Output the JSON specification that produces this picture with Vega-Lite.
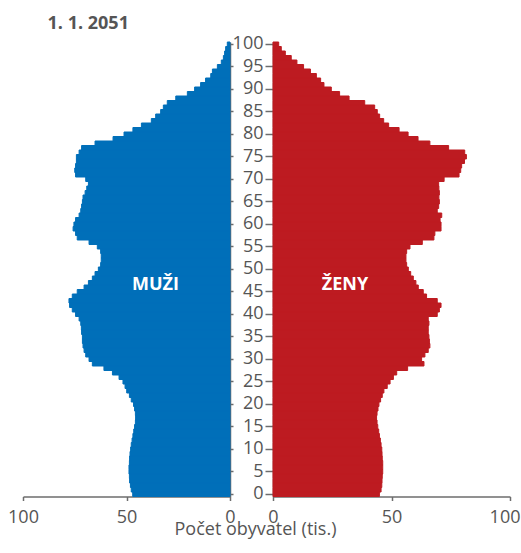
{
  "$schema": "https://vega.github.io/schema/vega-lite/v6.json",
  "padding": {"left": 7, "top": 14, "right": 1, "bottom": 5},
  "bounds": "flush",
  "spacing": 43,
  "title": {"text": "1. 1. 2051", "anchor": "start", "dx": 40, "fontSize": 18, "fontWeight": "bold", "font": "Open Sans", "color": "#555555", "offset": 2},
  "config": {
    "view": {"stroke": null},
    "font": "Open Sans",
    "axis": {"domainColor": "#6d6d6d", "tickColor": "#6d6d6d", "labelColor": "#555555", "labelFontSize": 18, "labelFont": "Open Sans", "grid": false, "domainWidth": 1.5, "tickWidth": 1.5, "titleFont": "Open Sans", "labelFlush": false, "labelOverlap": false, "labelBound": false}
  },
  "datasets": {
    "pop": [
      {"age":0,"m":47.0,"f":44.9},{"age":1,"m":47.7,"f":45.6},{"age":2,"m":48.1,"f":45.9},{"age":3,"m":48.5,"f":46.0},{"age":4,"m":48.6,"f":46.1},
      {"age":5,"m":48.8,"f":46.3},{"age":6,"m":48.8,"f":46.3},{"age":7,"m":48.6,"f":46.3},{"age":8,"m":48.5,"f":46.1},{"age":9,"m":48.3,"f":46.0},
      {"age":10,"m":48.0,"f":45.9},{"age":11,"m":47.7,"f":45.6},{"age":12,"m":47.3,"f":45.3},{"age":13,"m":46.9,"f":44.9},{"age":14,"m":46.5,"f":44.6},
      {"age":15,"m":46.1,"f":44.2},{"age":16,"m":45.7,"f":43.9},{"age":17,"m":45.6,"f":43.7},{"age":18,"m":45.7,"f":43.9},{"age":19,"m":46.1,"f":44.3},
      {"age":20,"m":46.6,"f":44.7},{"age":21,"m":47.7,"f":45.4},{"age":22,"m":48.6,"f":46.1},{"age":23,"m":49.9,"f":46.8},{"age":24,"m":50.7,"f":48.2},
      {"age":25,"m":51.7,"f":49.4},{"age":26,"m":53.6,"f":50.8},{"age":27,"m":56.8,"f":52.2},{"age":28,"m":60.9,"f":56.8},{"age":29,"m":66.5,"f":63.7},
      {"age":30,"m":68.1,"f":62.7},{"age":31,"m":69.7,"f":64.1},{"age":32,"m":70.5,"f":65.5},{"age":33,"m":71.0,"f":66.2},{"age":34,"m":71.3,"f":66.0},
      {"age":35,"m":71.3,"f":65.8},{"age":36,"m":71.7,"f":65.5},{"age":37,"m":71.8,"f":65.5},{"age":38,"m":72.1,"f":65.8},{"age":39,"m":72.9,"f":65.5},
      {"age":40,"m":74.6,"f":69.3},{"age":41,"m":76.2,"f":70.2},{"age":42,"m":77.5,"f":70.9},{"age":43,"m":77.8,"f":69.3},{"age":44,"m":76.2,"f":64.8},
      {"age":45,"m":73.8,"f":63.4},{"age":46,"m":70.5,"f":61.3},{"age":47,"m":68.4,"f":60.3},{"age":48,"m":66.5,"f":59.2},{"age":49,"m":65.2,"f":58.1},
      {"age":50,"m":63.6,"f":57.1},{"age":51,"m":62.5,"f":56.4},{"age":52,"m":62.2,"f":56.1},{"age":53,"m":62.2,"f":56.1},{"age":54,"m":62.5,"f":56.4},
      {"age":55,"m":64.1,"f":57.8},{"age":56,"m":68.1,"f":63.0},{"age":57,"m":73.8,"f":67.9},{"age":58,"m":74.6,"f":68.3},{"age":59,"m":75.8,"f":70.9},
      {"age":60,"m":75.4,"f":70.9},{"age":61,"m":74.6,"f":70.5},{"age":62,"m":72.9,"f":71.2},{"age":63,"m":72.1,"f":69.3},{"age":64,"m":71.7,"f":69.9},
      {"age":65,"m":71.3,"f":70.2},{"age":66,"m":71.0,"f":70.0},{"age":67,"m":70.0,"f":70.2},{"age":68,"m":69.2,"f":70.0},{"age":69,"m":68.4,"f":69.9},
      {"age":70,"m":69.7,"f":72.2},{"age":71,"m":74.6,"f":78.5},{"age":72,"m":75.0,"f":79.2},{"age":73,"m":74.6,"f":79.6},{"age":74,"m":74.2,"f":80.8},
      {"age":75,"m":74.2,"f":81.6},{"age":76,"m":72.9,"f":80.9},{"age":77,"m":71.7,"f":74.1},{"age":78,"m":65.2,"f":66.2},{"age":79,"m":56.5,"f":61.2},
      {"age":80,"m":51.2,"f":57.0},{"age":81,"m":46.9,"f":53.2},{"age":82,"m":42.8,"f":48.8},{"age":83,"m":38.0,"f":46.7},{"age":84,"m":35.9,"f":45.0},
      {"age":85,"m":33.5,"f":44.0},{"age":86,"m":32.2,"f":42.9},{"age":87,"m":30.3,"f":38.7},{"age":88,"m":26.2,"f":32.1},{"age":89,"m":20.6,"f":28.1},
      {"age":90,"m":17.1,"f":24.6},{"age":91,"m":14.2,"f":21.5},{"age":92,"m":11.8,"f":20.1},{"age":93,"m":9.3,"f":18.3},{"age":94,"m":8.5,"f":15.8},
      {"age":95,"m":6.1,"f":12.9},{"age":96,"m":4.2,"f":10.1},{"age":97,"m":3.2,"f":7.7},{"age":98,"m":2.6,"f":5.2},{"age":99,"m":2.1,"f":3.5},
      {"age":100,"m":1.3,"f":2.4}
    ]
  },
  "hconcat": [
    {
      "width": 207,
      "height": 454.5,
      "layer": [
        {
          "data": {"name": "pop"},
          "mark": {"type": "bar", "color": "#006FB9", "stroke": "#006FB9", "strokeWidth": 1},
          "encoding": {
            "y": {"field": "age", "type": "ordinal", "sort": "descending", "scale": {"paddingInner": 0, "paddingOuter": 0},
                  "axis": {"orient": "right", "labels": false, "tickSize": 3, "title": null, "values": [0,5,10,15,20,25,30,35,40,45,50,55,60,65,70,75,80,85,90,95,100]}},
            "x": {"field": "m", "type": "quantitative", "scale": {"domain": [0, 100], "reverse": true},
                  "axis": {"values": [0, 50, 100], "tickSize": 4, "labelPadding": 8, "labelBaseline": "top", "title": null}}
          }
        },
        {
          "data": {"values": [{"t": "MUŽI", "v": 36, "age": 46}]},
          "mark": {"type": "text", "color": "white", "fontWeight": "bold", "fontSize": 18, "font": "Open Sans", "dy": -2},
          "encoding": {
            "text": {"field": "t"},
            "x": {"field": "v", "type": "quantitative"},
            "y": {"field": "age", "type": "ordinal", "sort": "descending"}
          }
        }
      ]
    },
    {
      "width": 237,
      "height": 454.5,
      "layer": [
        {
          "data": {"name": "pop"},
          "mark": {"type": "bar", "color": "#BD1B21", "stroke": "#BD1B21", "strokeWidth": 1},
          "encoding": {
            "y": {"field": "age", "type": "ordinal", "sort": "descending", "scale": {"paddingInner": 0, "paddingOuter": 0},
                  "axis": {"orient": "left", "tickSize": 8, "labelPadding": 2, "title": null, "values": [0,5,10,15,20,25,30,35,40,45,50,55,60,65,70,75,80,85,90,95,100]}},
            "x": {"field": "f", "type": "quantitative", "scale": {"domain": [0, 100]},
                  "axis": {"values": [0, 50, 100], "tickSize": 4, "labelPadding": 8, "labelBaseline": "top",
                           "labelAlign": {"condition": {"test": "datum.value === 100", "value": "right"}, "value": "center"},
                           "labelOffset": {"condition": {"test": "datum.value === 100", "value": 10}, "value": 0},
                           "title": "Počet obyvatel (tis.)", "titleX": -18, "titleY": 38, "titleBaseline": "alphabetic", "titleAlign": "center",
                           "titleFontSize": 18, "titleFontWeight": "normal", "titleColor": "#555555"}}
          }
        },
        {
          "data": {"values": [{"t": "ŽENY", "v": 30.4, "age": 46}]},
          "mark": {"type": "text", "color": "white", "fontWeight": "bold", "fontSize": 18, "font": "Open Sans", "dy": -2},
          "encoding": {
            "text": {"field": "t"},
            "x": {"field": "v", "type": "quantitative"},
            "y": {"field": "age", "type": "ordinal", "sort": "descending"}
          }
        }
      ]
    }
  ]
}
